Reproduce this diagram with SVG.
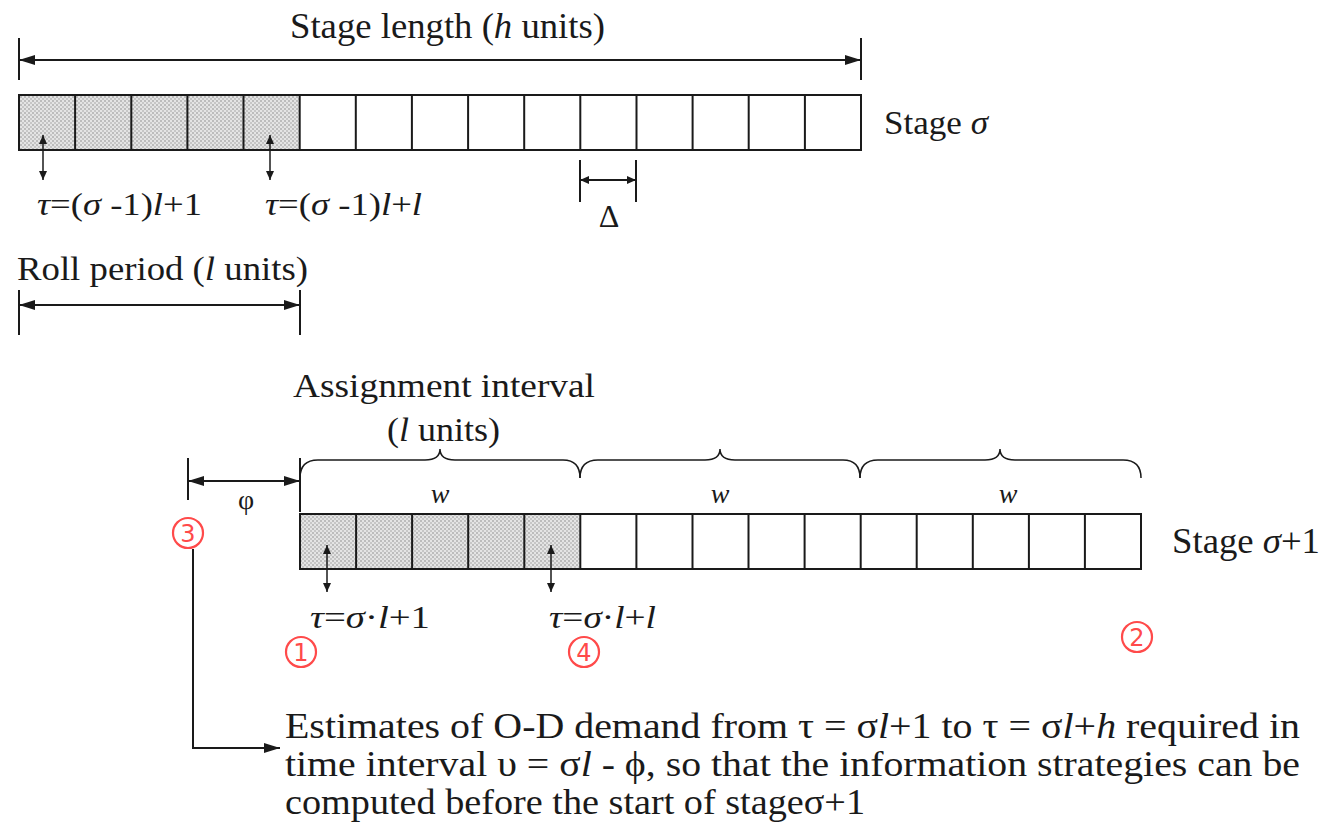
<svg xmlns="http://www.w3.org/2000/svg" width="1324" height="828" viewBox="0 0 1324 828">
<style>
.t{font-family:"Liberation Serif","Times New Roman",serif;fill:#1a1a1a;}
.ln{stroke:#1a1a1a;stroke-width:2;fill:none;}
.thin{stroke:#1a1a1a;stroke-width:1.5;fill:none;}
.red{stroke:#ff4a4a;stroke-width:2.2;fill:none;}
.rt{font-family:"DejaVu Sans","Liberation Sans",sans-serif;fill:#ff4a4a;font-size:24px;text-anchor:middle;}
.i{font-style:italic;}
</style>
<defs>
<pattern id="dots" width="4" height="4" patternUnits="userSpaceOnUse">
<rect width="4" height="4" fill="#e4e4e4"/>
<circle cx="1" cy="1" r="0.8" fill="#8a8a8a"/>
<circle cx="3" cy="3" r="0.8" fill="#a0a0a0"/>
</pattern>
<marker id="ah" viewBox="0 0 16 10" refX="16" refY="5" markerWidth="16" markerHeight="10" markerUnits="userSpaceOnUse" orient="auto-start-reverse">
<path d="M0,0 L16,5 L0,10 z" fill="#1a1a1a"/>
</marker>
<marker id="as" viewBox="0 0 9 8" refX="9" refY="4" markerWidth="9" markerHeight="8" markerUnits="userSpaceOnUse" orient="auto-start-reverse">
<path d="M0,0 L9,4 L0,8 z" fill="#1a1a1a"/>
</marker>
</defs>
<rect width="1324" height="828" fill="#ffffff"/>

<!-- Stage sigma -->
<g id="stage-sigma">
<rect x="19" y="95" width="281" height="55" fill="url(#dots)"/>
<rect x="19" y="95" width="842" height="55" class="ln"/>
<path class="ln" d="M75.1,95V150M131.3,95V150M187.4,95V150M243.5,95V150M299.7,95V150M355.8,95V150M411.9,95V150M468.1,95V150M524.2,95V150M580.3,95V150M636.5,95V150M692.6,95V150M748.7,95V150M804.9,95V150"/>
<text class="t" x="884" y="134" font-size="34" textLength="104" lengthAdjust="spacingAndGlyphs">Stage <tspan class="i">σ</tspan></text>
</g>

<g id="stage-length">
<path class="ln" d="M19,38V80M861,38V80"/>
<line class="ln" x1="19" y1="60" x2="861" y2="60" marker-start="url(#ah)" marker-end="url(#ah)"/>
<text class="t" x="290" y="38" font-size="36" textLength="315" lengthAdjust="spacingAndGlyphs">Stage length (<tspan class="i">h</tspan> units)</text>
</g>

<g id="tau-top">
<line class="thin" x1="43" y1="135" x2="43" y2="180" marker-start="url(#as)" marker-end="url(#as)"/>
<line class="thin" x1="270" y1="135" x2="270" y2="180" marker-start="url(#as)" marker-end="url(#as)"/>
<text class="t" x="37" y="215" font-size="32" textLength="165" lengthAdjust="spacingAndGlyphs"><tspan class="i">τ</tspan>=(<tspan class="i">σ</tspan> -1)<tspan class="i">l</tspan>+1</text>
<text class="t" x="265" y="215" font-size="32" textLength="157" lengthAdjust="spacingAndGlyphs"><tspan class="i">τ</tspan>=(<tspan class="i">σ</tspan> -1)<tspan class="i">l</tspan>+<tspan class="i">l</tspan></text>
</g>

<g id="delta">
<path class="ln" d="M580,160V202M636,160V202"/>
<line class="ln" x1="580" y1="180" x2="636" y2="180" marker-start="url(#as)" marker-end="url(#as)"/>
<text class="t" x="609" y="227" font-size="32" text-anchor="middle">Δ</text>
</g>

<g id="roll-period">
<text class="t" x="17" y="280" font-size="34" textLength="291" lengthAdjust="spacingAndGlyphs">Roll period (<tspan class="i">l</tspan> units)</text>
<path class="ln" d="M19,290V335M300,290V335"/>
<line class="ln" x1="19" y1="305" x2="300" y2="305" marker-start="url(#ah)" marker-end="url(#ah)"/>
</g>

<g id="assignment-interval">
<text class="t" x="293" y="397" font-size="34" textLength="302" lengthAdjust="spacingAndGlyphs">Assignment interval</text>
<text class="t" x="387" y="441" font-size="34" textLength="113" lengthAdjust="spacingAndGlyphs">(<tspan class="i">l</tspan> units)</text>
<path class="thin" d="M300,478 Q300,460 318,460 H425 Q440,460 440,449 Q440,460 455,460 H563 Q580,460 580,478"/>
<path class="thin" d="M580,478 Q580,460 598,460 H705 Q720,460 720,449 Q720,460 735,460 H843 Q860,460 860,478"/>
<path class="thin" d="M860,478 Q860,460 878,460 H985 Q1000,460 1000,449 Q1000,460 1015,460 H1123 Q1141,460 1141,478"/>
<text class="t i" x="440" y="503" font-size="28" text-anchor="middle">w</text>
<text class="t i" x="720" y="503" font-size="28" text-anchor="middle">w</text>
<text class="t i" x="1008" y="503" font-size="28" text-anchor="middle">w</text>
</g>

<g id="phi">
<path class="ln" d="M188,458V500M300,458V512"/>
<line class="ln" x1="188" y1="481" x2="300" y2="481" marker-start="url(#ah)" marker-end="url(#ah)"/>
<text class="t" x="246" y="509" font-size="28" text-anchor="middle">φ</text>
</g>

<!-- Stage sigma+1 -->
<g id="stage-sigma-1">
<rect x="300" y="514" width="280" height="55" fill="url(#dots)"/>
<rect x="300" y="514" width="841" height="55" class="ln"/>
<path class="ln" d="M356.1,514V569M412.1,514V569M468.2,514V569M524.3,514V569M580.3,514V569M636.4,514V569M692.5,514V569M748.5,514V569M804.6,514V569M860.7,514V569M916.7,514V569M972.8,514V569M1028.9,514V569M1084.9,514V569"/>
<text class="t" x="1172" y="553" font-size="35" textLength="148" lengthAdjust="spacingAndGlyphs">Stage <tspan class="i">σ</tspan>+1</text>
</g>

<g id="tau-bottom">
<line class="thin" x1="327" y1="545" x2="327" y2="592" marker-start="url(#as)" marker-end="url(#as)"/>
<line class="thin" x1="551" y1="545" x2="551" y2="592" marker-start="url(#as)" marker-end="url(#as)"/>
<text class="t" x="310" y="628" font-size="31" textLength="120" lengthAdjust="spacingAndGlyphs"><tspan class="i">τ</tspan>=<tspan class="i">σ</tspan>·<tspan class="i">l</tspan>+1</text>
<text class="t" x="549" y="628" font-size="31" textLength="107" lengthAdjust="spacingAndGlyphs"><tspan class="i">τ</tspan>=<tspan class="i">σ</tspan>·<tspan class="i">l</tspan>+<tspan class="i">l</tspan></text>
</g>

<g id="markers">
<g id="m3"><circle class="red" cx="188" cy="533" r="15"/><text class="rt" x="188" y="542">3</text></g>
<g id="m1"><circle class="red" cx="301" cy="652" r="15"/><text class="rt" x="301" y="661">1</text></g>
<g id="m4"><circle class="red" cx="584" cy="652" r="15"/><text class="rt" x="584" y="661">4</text></g>
<g id="m2"><circle class="red" cx="1137" cy="637" r="15"/><text class="rt" x="1137" y="646">2</text></g>
</g>

<g id="connectors">
<polyline class="ln" points="193,549 193,748 280,748" marker-end="url(#ah)"/>
</g>

<g id="note">
<text class="t" x="285" y="738" font-size="36" textLength="1015" lengthAdjust="spacingAndGlyphs">Estimates of O-D demand from τ = σ<tspan class="i">l</tspan>+1 to τ = σ<tspan class="i">l</tspan>+<tspan class="i">h</tspan> required in</text>
<text class="t" x="285" y="776" font-size="36" textLength="1015" lengthAdjust="spacingAndGlyphs">time interval υ = σ<tspan class="i">l</tspan> - ϕ, so that the information strategies can be</text>
<text class="t" x="285" y="814" font-size="36" textLength="580" lengthAdjust="spacingAndGlyphs">computed before the start of stageσ+1</text>
</g>
</svg>
